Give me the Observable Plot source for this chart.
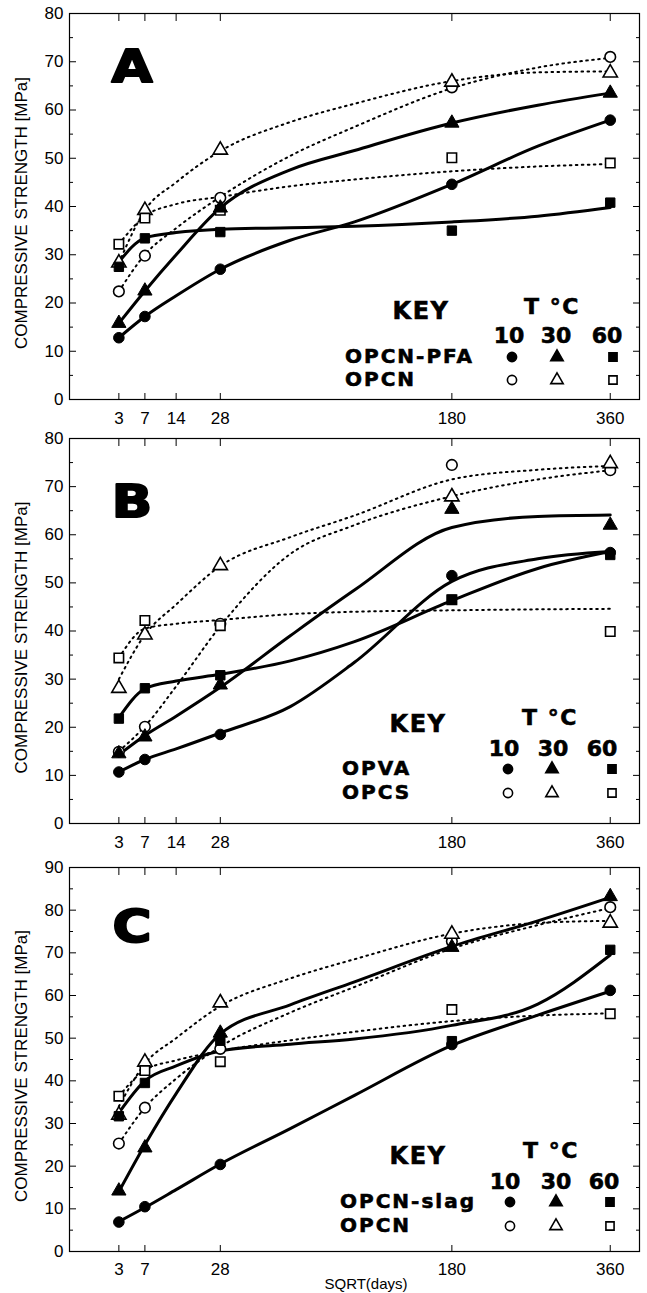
<!DOCTYPE html>
<html><head><meta charset="utf-8">
<script src="https://cdn.jsdelivr.net/npm/d3@7"></script>
<script src="https://cdn.jsdelivr.net/npm/@observablehq/plot@0.6"></script>
<style>
html,body{margin:0;padding:0;background:#fff;}
#chart svg{display:block;}
</style></head><body><div id="chart"></div>
<script>
// ---------- data ----------
const days = [3, 7, 28, 180, 360];
const fitDays = [3, 7, 14, 28, 60, 100, 180, 270, 360];
const xTicksAB = [3, 7, 14, 28, 180, 360];
const xTicksC = [3, 7, 28, 180, 360];
const xTicksTop = [3, 7, 14, 28, 180, 360];
const temps = ["10", "30", "60"];
const panelLetters = ["A", "B", "C"];
const blendNames = ["OPCN-PFA", "OPVA", "OPCN-slag"];
const refNames = ["OPCN", "OPCS", "OPCN"];
const yMaxes = [80, 80, 90];

// Panel A measured points
const aPfa10 = [12.8, 17.2, 27.0, 44.6, 57.9];
const aPfa30 = [15.8, 22.5, 39.7, 57.3, 63.5];
const aPfa60 = [27.5, 33.4, 34.7, 35.0, 40.8];
const aOpcn10 = [22.4, 29.8, 41.8, 64.7, 71.0];
const aOpcn30 = [28.3, 39.2, 51.7, 65.8, 67.7];
const aOpcn60 = [32.2, 37.6, 39.2, 50.1, 49.0];
// Panel A fitted curves (read at fitDays)
const aPfa10Fit = [12.8, 17.2, 21.5, 27.0, 33.0, 36.8, 44.6, 52.5, 57.9];
const aPfa30Fit = [15.8, 22.5, 30.0, 39.7, 47.6, 51.6, 57.3, 61.0, 63.5];
const aPfa60Fit = [28.5, 33.5, 34.6, 35.3, 35.6, 35.9, 36.8, 38.0, 39.8];
const aOpcn10Fit = [22.4, 30.0, 35.5, 42.0, 50.5, 56.5, 64.5, 68.8, 70.8];
const aOpcn30Fit = [28.3, 39.2, 45.0, 51.5, 57.5, 61.3, 66.0, 67.8, 68.0];
const aOpcn60Fit = [32.2, 38.0, 40.5, 42.0, 44.2, 45.6, 47.3, 48.3, 48.8];

// Panel B measured points
const bOpva10 = [10.7, 13.3, 18.5, 51.5, 56.3];
const bOpva30 = [14.5, 18.0, 28.8, 65.3, 62.0];
const bOpva60 = [21.8, 28.1, 30.8, 46.5, 55.8];
const bOpcs10 = [14.9, 20.1, 41.5, 74.5, 73.4];
const bOpcs30 = [28.1, 39.2, 53.6, 67.9, 74.8];
const bOpcs60 = [34.4, 42.2, 41.1, 46.5, 39.9];
// Panel B fitted curves
const bOpva10Fit = [10.7, 13.3, 15.5, 18.8, 24.3, 33.5, 50.3, 55.0, 56.5];
const bOpva30Fit = [14.3, 18.3, 22.3, 28.3, 39.0, 48.5, 61.5, 63.8, 64.1];
const bOpva60Fit = [22.0, 28.0, 29.6, 31.0, 33.8, 37.8, 46.3, 53.0, 56.5];
const bOpcs10Fit = [15.0, 20.2, 28.5, 41.0, 56.0, 62.0, 68.0, 71.5, 73.4];
const bOpcs30Fit = [30.0, 39.2, 45.5, 53.5, 59.5, 64.0, 71.5, 73.5, 74.3];
const bOpcs60Fit = [34.4, 40.5, 41.5, 42.3, 43.5, 44.0, 44.3, 44.5, 44.6];

// Panel C measured points
const cSlag10 = [6.9, 10.5, 20.4, 48.5, 61.2];
const cSlag30 = [14.2, 24.3, 51.2, 71.3, 83.2];
const cSlag60 = [31.7, 39.5, 49.4, 49.3, 70.7];
const cOpcn10 = [25.3, 33.7, 47.5, 72.7, 80.7];
const cOpcn30 = [32.0, 44.4, 58.3, 74.4, 77.0];
const cOpcn60 = [36.4, 42.4, 44.5, 56.7, 55.7];
// Panel C fitted curves
const cSlag10Fit = [7.0, 10.3, 14.5, 20.5, 28.8, 36.6, 48.3, 55.4, 61.0];
const cSlag30Fit = [14.0, 25.0, 37.0, 51.0, 57.8, 63.2, 71.5, 77.5, 83.0];
const cSlag60Fit = [32.5, 40.0, 43.5, 47.0, 48.6, 49.8, 53.0, 58.0, 69.5];
const cOpcn10Fit = [25.3, 33.7, 40.5, 48.0, 56.0, 62.0, 71.0, 76.5, 80.5];
const cOpcn30Fit = [34.0, 44.0, 50.0, 57.5, 64.0, 68.5, 74.5, 77.0, 77.5];
const cOpcn60Fit = [36.4, 42.5, 44.8, 47.0, 49.5, 51.5, 54.0, 55.3, 55.8];

// ---------- layout ----------
const W = 647;
const SYM = {"10": "circle", "30": "triangle", "60": "square"};
const layouts = [
  {height: 430, mt: 13, mb: 31, xTicks: xTicksAB, labelPad: 12,
   key: [421, 311], tc: [552, 306], nums: [[509, 335], [556, 335], [607, 335]], nameX: 345, rowsY: [356, 379], symX: [512, 557, 613], top: 0},
  {height: 427, mt: 8, mb: 34, xTicks: xTicksAB, labelPad: 12,
   key: [418, 724], tc: [550, 717], nums: [[504, 748], [553, 748], [602, 748]], nameX: 342, rowsY: [768, 792], symX: [508, 552, 612], top: 430},
  {height: 436, mt: 10, mb: 42, xTicks: xTicksC, labelPad: 11,
   key: [418, 1156], tc: [551, 1150], nums: [[505, 1181], [556, 1181], [604, 1181]], nameX: 340, rowsY: [1201, 1225], symX: [510, 556, 610], top: 857}
];
const filledSets = [[aPfa10, aPfa30, aPfa60], [bOpva10, bOpva30, bOpva60], [cSlag10, cSlag30, cSlag60]];
const openSets = [[aOpcn10, aOpcn30, aOpcn60], [bOpcs10, bOpcs30, bOpcs60], [cOpcn10, cOpcn30, cOpcn60]];
const filledFits = [[aPfa10Fit, aPfa30Fit, aPfa60Fit], [bOpva10Fit, bOpva30Fit, bOpva60Fit], [cSlag10Fit, cSlag30Fit, cSlag60Fit]];
const openFits = [[aOpcn10Fit, aOpcn30Fit, aOpcn60Fit], [bOpcs10Fit, bOpcs30Fit, bOpcs60Fit], [cOpcn10Fit, cOpcn30Fit, cOpcn60Fit]];

function toRows(sets, xs) {
  return sets.flatMap((vals, k) => xs.map((d, i) => ({day: d, v: vals[i], series: temps[k], sym: SYM[temps[k]]})));
}

const R = 5.3;
const container = document.getElementById("chart");

panelLetters.forEach((letter, p) => {
  const L = layouts[p];
  const ymax = yMaxes[p];
  const major = d3.range(0, ymax + 1, 10);
  const minor = d3.range(5, ymax, 10);
  const filledPts = toRows(filledSets[p], days);
  const openPts = toRows(openSets[p], days);
  const filledLines = toRows(filledFits[p], fitDays);
  const openLines = toRows(openFits[p], fitDays);
  const blank = () => "";
  const chart = Plot.plot({
    width: W, height: L.height,
    marginLeft: 69, marginRight: 8, marginTop: L.mt, marginBottom: L.mb,
    style: {fontFamily: "'Liberation Sans', Arial, sans-serif", fontSize: "17px", background: "white", color: "black", overflow: "visible"},
    x: {type: "sqrt", domain: [0, 400]},
    y: {domain: [0, ymax]},
    marks: [
      Plot.frame({stroke: "black", strokeWidth: 1.2}),
      Plot.axisY(major, {anchor: "left", tickSize: 0, tickPadding: 6, fontSize: 17, label: null}),
      Plot.axisY(major, {anchor: "left", tickSize: -7, tickFormat: blank, label: null}),
      Plot.axisY(minor, {anchor: "left", tickSize: -4, tickFormat: blank, label: null}),
      Plot.axisY(major, {anchor: "right", tickSize: -7, tickFormat: blank, label: null}),
      Plot.axisY(minor, {anchor: "right", tickSize: -4, tickFormat: blank, label: null}),
      Plot.axisX(L.xTicks, {anchor: "bottom", tickSize: 0, tickPadding: L.labelPad, fontSize: 17, label: null}),
      Plot.axisX(L.xTicks, {anchor: "bottom", tickSize: -6, tickFormat: blank, label: null}),
      Plot.axisX(xTicksTop, {anchor: "top", tickSize: -7, tickFormat: blank, label: null}),
      Plot.line(openLines, {x: "day", y: "v", z: "series", curve: "monotone-x", stroke: "black", strokeWidth: 2, strokeDasharray: "1.6,4.4"}),
      Plot.line(filledLines, {x: "day", y: "v", z: "series", curve: "monotone-x", stroke: "black", strokeWidth: 3}),
      Plot.dot(openPts, {x: "day", y: "v", symbol: "sym", r: R, fill: "white", stroke: "black", strokeWidth: 1.6}),
      Plot.dot(filledPts, {x: "day", y: "v", symbol: "sym", r: R, fill: "black", stroke: "black", strokeWidth: 1})
    ]
  });
  container.appendChild(chart);
  const svg = d3.select(chart);
  const y = chart.scale("y");
  const cy = (y.apply(0) + y.apply(ymax)) / 2 + 7;
  // y label
  svg.append("text")
    .attr("transform", `translate(21,${cy}) rotate(-90)`)
    .attr("text-anchor", "middle").attr("dominant-baseline", "central")
    .attr("font-family", "'Liberation Sans', Arial, sans-serif").attr("font-size", 17)
    .attr("fill", "black").text("COMPRESSIVE STRENGTH [MPa]");
  // panel letter
  svg.append("text")
    .attr("transform", `translate(132,${82 - L.mt + 13}) scale(1.18,1)`)
    .attr("text-anchor", "middle")
    .attr("font-family", "'DejaVu Sans', sans-serif").attr("font-weight", "bold").attr("font-size", 45)
    .attr("fill", "black").attr("stroke", "black").attr("stroke-width", 2).attr("stroke-linejoin", "round")
    .text(letter);
  // legend
  const t = L.top;
  const g = svg.append("g")
    .attr("font-family", "'DejaVu Sans', sans-serif").attr("font-weight", "bold")
    .attr("fill", "black").attr("stroke", "black").attr("stroke-width", 0.6)
    .attr("dominant-baseline", "central");
  g.append("text").attr("x", L.key[0]).attr("y", L.key[1] - t).attr("text-anchor", "middle")
    .attr("font-size", 24).attr("letter-spacing", 1.5).text("KEY");
  g.append("text").attr("x", L.tc[0]).attr("y", L.tc[1] - t).attr("text-anchor", "middle")
    .attr("font-size", 22).attr("letter-spacing", 1.5).text("T °C");
  temps.forEach((tt, k) => {
    g.append("text").attr("x", L.nums[k][0]).attr("y", L.nums[k][1] - t).attr("text-anchor", "middle")
      .attr("font-size", 22).text(tt);
  });
  [blendNames[p], refNames[p]].forEach((nm, r) => {
    g.append("text").attr("x", L.nameX).attr("y", L.rowsY[r] - t).attr("text-anchor", "start")
      .attr("font-size", 20).attr("letter-spacing", 2).text(nm);
  });
  const shapes = {circle: d3.symbolCircle, triangle: d3.symbolTriangle, square: d3.symbolSquare};
  temps.forEach((tt, k) => {
    [0, 1].forEach(r => {
      svg.append("path")
        .attr("transform", `translate(${L.symX[k]},${L.rowsY[r] + 1 - t})`)
        .attr("d", d3.symbol(shapes[SYM[tt]], Math.PI * 4.6 * 4.6)())
        .attr("fill", r === 0 ? "black" : "white").attr("stroke", "black").attr("stroke-width", 1.6);
    });
  });
  if (p === 2) {
    svg.append("text").attr("x", 366).attr("y", 1283 - t).attr("text-anchor", "middle")
      .attr("dominant-baseline", "central")
      .attr("font-family", "'Liberation Sans', Arial, sans-serif").attr("font-size", 15)
      .attr("fill", "black").text("SQRT(days)");
  }
});
</script>
</body></html>
